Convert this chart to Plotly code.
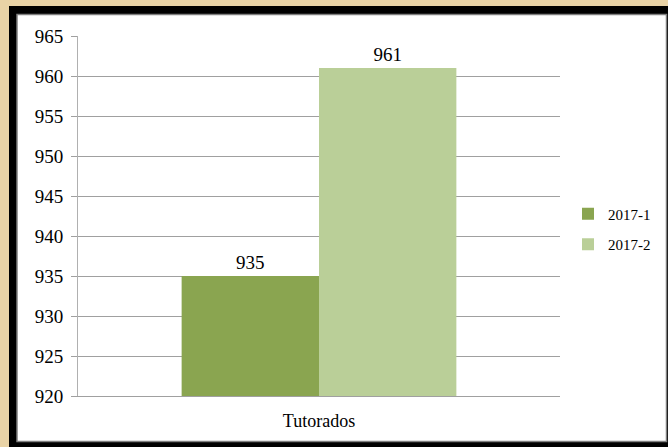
import plotly.graph_objects as go

categories = ["Tutorados"]
series_names = ["2017-1", "2017-2"]
values_2017_1 = [935]
values_2017_2 = [961]
colors = ["#8aa550", "#bacf98"]

FONT = "Times New Roman"

# plot area in pixels
W, H = 668, 447
L, R, T, B = 78, 560, 36, 396
pw, ph = R - L, B - T

def px(x):
    return (x - L) / pw

def py(y):
    return (B - y) / ph

fig = go.Figure()
for name, vals, col in zip(series_names, [values_2017_1, values_2017_2], colors):
    fig.add_trace(go.Bar(
        x=categories, y=vals, name=name, marker_color=col,
        marker_line_width=0, legendgroup=name,
        text=vals, textposition="outside", cliponaxis=False,
        textfont=dict(family=FONT, size=19, color="#000000"),
    ))

shapes = [
    dict(type="rect", xref="paper", yref="paper", layer="below",
         x0=px(9), x1=px(680), y0=py(6), y1=py(460),
         fillcolor="#000000", line=dict(width=0)),
    dict(type="rect", xref="paper", yref="paper", layer="below",
         x0=px(17), x1=px(666.5), y0=py(14.5), y1=py(441.5),
         fillcolor="#ffffff", line=dict(color="#7f7f7f", width=1.5)),
]

fig.update_layout(
    width=W, height=H,
    margin=dict(l=L, r=W - R, t=T, b=H - B, pad=0, autoexpand=False),
    paper_bgcolor="#e9d3a6",
    plot_bgcolor="#ffffff",
    barmode="group",
    bargap=0.43,
    bargroupgap=0,
    shapes=shapes,
    font=dict(family=FONT, color="#000000"),
    showlegend=True,
    legend=dict(
        xref="container", yref="container",
        x=568 / W, xanchor="left", y=1 - 229 / H, yanchor="middle",
        font=dict(family=FONT, size=15, color="#000000"),
        bgcolor="rgba(0,0,0,0)", tracegroupgap=8,
        traceorder="grouped", itemwidth=30,
    ),
    xaxis=dict(
        showgrid=False, showline=True, linecolor="#a0a0a0", linewidth=1,
        tickfont=dict(family=FONT, size=18, color="#000000"),
        ticks="", ticklabelstandoff=8, automargin=False,
    ),
    yaxis=dict(
        range=[920, 965], dtick=5, tick0=920,
        showgrid=True, gridcolor="#a0a0a0", gridwidth=1,
        showline=True, linecolor="#b0b0b0", linewidth=1,
        ticks="outside", ticklen=6, tickcolor="#a0a0a0",
        tickfont=dict(family=FONT, size=19, color="#000000"),
        ticklabelstandoff=4, automargin=False,
        zeroline=False,
    ),
)

fig.write_html(
    "out.html",
    config={"displayModeBar": False},
    post_script="document.body.style.margin='0';document.body.style.overflow='hidden';",
)
